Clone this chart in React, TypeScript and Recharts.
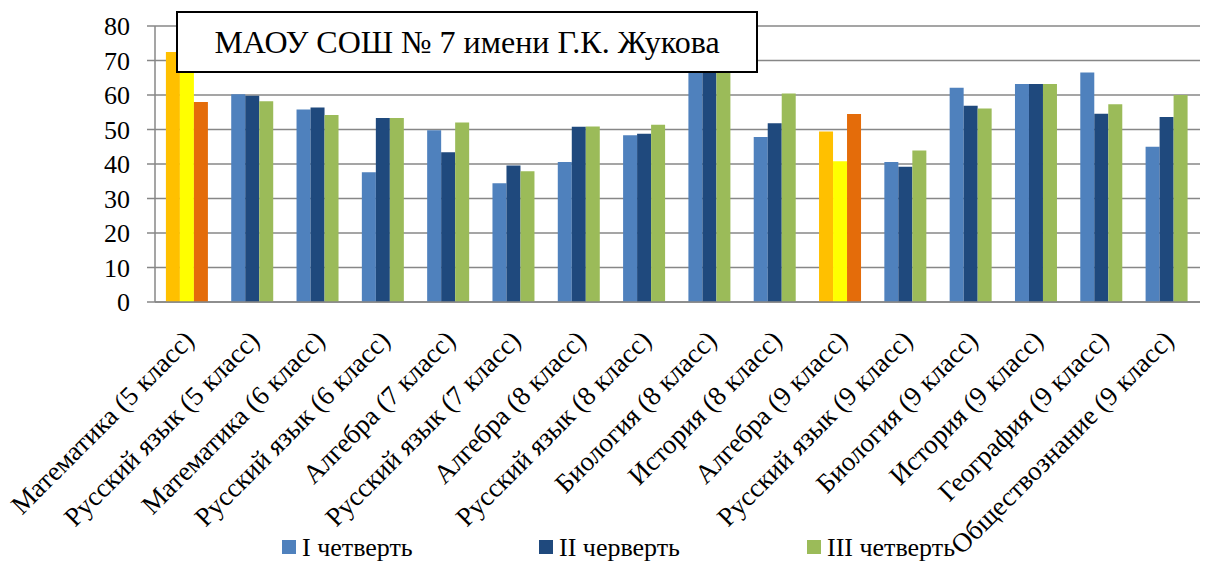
import React from "react";
import { BarChart, Bar, XAxis, YAxis, CartesianGrid, Legend, Cell } from "recharts";

const CATEGORIES = [
  "Математика (5 класс)",
  "Русский язык (5 класс)",
  "Математика (6 класс)",
  "Русский язык (6 класс)",
  "Алгебра (7 класс)",
  "Русский язык (7 класс)",
  "Алгебра (8 класс)",
  "Русский язык (8 класс)",
  "Биология (8 класс)",
  "История (8 класс)",
  "Алгебра (9 класс)",
  "Русский язык (9 класс)",
  "Биология (9 класс)",
  "История (9 класс)",
  "География (9 класс)",
  "Обществознание (9 класс)",
];

const Q1 = [72.5, 60.2, 55.8, 37.6, 49.8, 34.4, 40.6, 48.3, 76, 47.8, 49.4, 40.6, 62.1, 63.2, 66.5, 45.0];
const Q2 = [70, 59.8, 56.4, 53.3, 43.4, 39.6, 50.8, 48.8, 77, 51.8, 40.8, 39.2, 56.9, 63.2, 54.6, 53.6];
const Q3 = [58, 58.2, 54.2, 53.3, 52.0, 37.9, 50.9, 51.4, 75, 60.4, 54.5, 43.9, 56.1, 63.2, 57.3, 60.0];

const SERIES_NAMES = ["I четверть", "II черверть", "III четверть"];
const Y_TICKS = [0, 10, 20, 30, 40, 50, 60, 70, 80];
const EDGE_TICKS = [0, 1, 2, 3, 4, 5, 6, 7, 8, 9, 10, 11, 12, 13, 14, 15, 16];
const TITLE = "МАОУ СОШ № 7 имени Г.К. Жукова";

// цвета
const COLORS = ["#4F81BD", "#1F497D", "#9BBB59"];
const HIGHLIGHT: Record<string, string[]> = {
  "Математика (5 класс)": ["#FFC000", "#FFFF00", "#E46C0A"],
  "Алгебра (9 класс)": ["#FFC000", "#FFFF00", "#E46C0A"],
};
const GRID = "#878787";
const FONT = "Liberation Serif";
const LEGEND_X = [282, 539, 807];

const data = CATEGORIES.map((name, i) => ({ name, q1: Q1[i], q2: Q2[i], q3: Q3[i] }));

const CategoryTick = (props: any) => {
  const { x, y, payload } = props;
  const ax = x + 8;
  const ay = y + 40;
  return (
    <text
      x={ax}
      y={ay}
      transform={`rotate(-45, ${ax}, ${ay})`}
      textAnchor="end"
      fontSize={27}
      fontFamily={FONT}
      fill="#000"
    >
      {payload.value}
    </text>
  );
};

const LegendContent = () => (
  <div style={{ position: "relative", width: 1209, height: 30, fontFamily: FONT }}>
    {SERIES_NAMES.map((n, i) => (
      <div
        key={n}
        style={{ position: "absolute", left: LEGEND_X[i], top: 0, display: "flex", alignItems: "flex-start" }}
      >
        <span style={{ width: 14, height: 14, marginTop: 4, marginRight: 6, background: COLORS[i], display: "inline-block" }} />
        <span style={{ fontSize: 26, lineHeight: "24px", color: "#000", whiteSpace: "nowrap", fontFamily: FONT }}>{n}</span>
      </div>
    ))}
  </div>
);

const keys = ["q1", "q2", "q3"];

export default function App() {
  return (
    <div style={{ position: "absolute", left: 0, top: 0, width: 1209, height: 566, background: "#fff", fontFamily: FONT }}>
      <BarChart
        width={1209}
        height={566}
        data={data}
        margin={{ top: 26, right: 9, left: 0, bottom: 0 }}
        barCategoryGap="16.7%"
        barGap={0}
      >
        <CartesianGrid vertical={false} stroke={GRID} strokeWidth={1.5} xAxisId="cat" />
        <XAxis
          xAxisId="edges"
          type="number"
          domain={[0, 16]}
          ticks={EDGE_TICKS}
          tick={false}
          tickLine={{ stroke: GRID, strokeWidth: 1.5 }}
          tickSize={8}
          axisLine={false}
          height={1}
          allowDataOverflow
        />
        <XAxis
          xAxisId="cat"
          dataKey="name"
          interval={0}
          tickLine={false}
          tickSize={0}
          tickMargin={0}
          axisLine={{ stroke: GRID, strokeWidth: 1.5 }}
          tick={<CategoryTick />}
          height={233}
        />
        <YAxis
          domain={[0, 80]}
          ticks={Y_TICKS}
          interval={0}
          width={155}
          axisLine={{ stroke: GRID, strokeWidth: 1.5 }}
          tickLine={{ stroke: GRID, strokeWidth: 1.5 }}
          tickSize={8}
          tickMargin={17}
          tick={{ fontSize: 26, fill: "#000", fontFamily: FONT }}
        />
        <Legend verticalAlign="bottom" content={<LegendContent />} wrapperStyle={{ left: 0, bottom: 0, width: 1209, height: 30 }} />
        {keys.map((k, si) => (
          <Bar key={k} dataKey={k} name={SERIES_NAMES[si]} xAxisId="cat" fill={COLORS[si]} isAnimationActive={false}>
            {data.map((d) => (
              <Cell key={d.name} fill={HIGHLIGHT[d.name]?.[si] ?? COLORS[si]} />
            ))}
          </Bar>
        ))}
      </BarChart>
      <div
        style={{
          position: "absolute",
          left: 176,
          top: 11,
          width: 578,
          height: 58,
          border: "2px solid #000",
          background: "#fff",
          display: "flex",
          alignItems: "center",
          justifyContent: "center",
          fontFamily: FONT,
          fontSize: 32,
          color: "#000",
          whiteSpace: "nowrap",
        }}
      >
        {TITLE}
      </div>
    </div>
  );
}
